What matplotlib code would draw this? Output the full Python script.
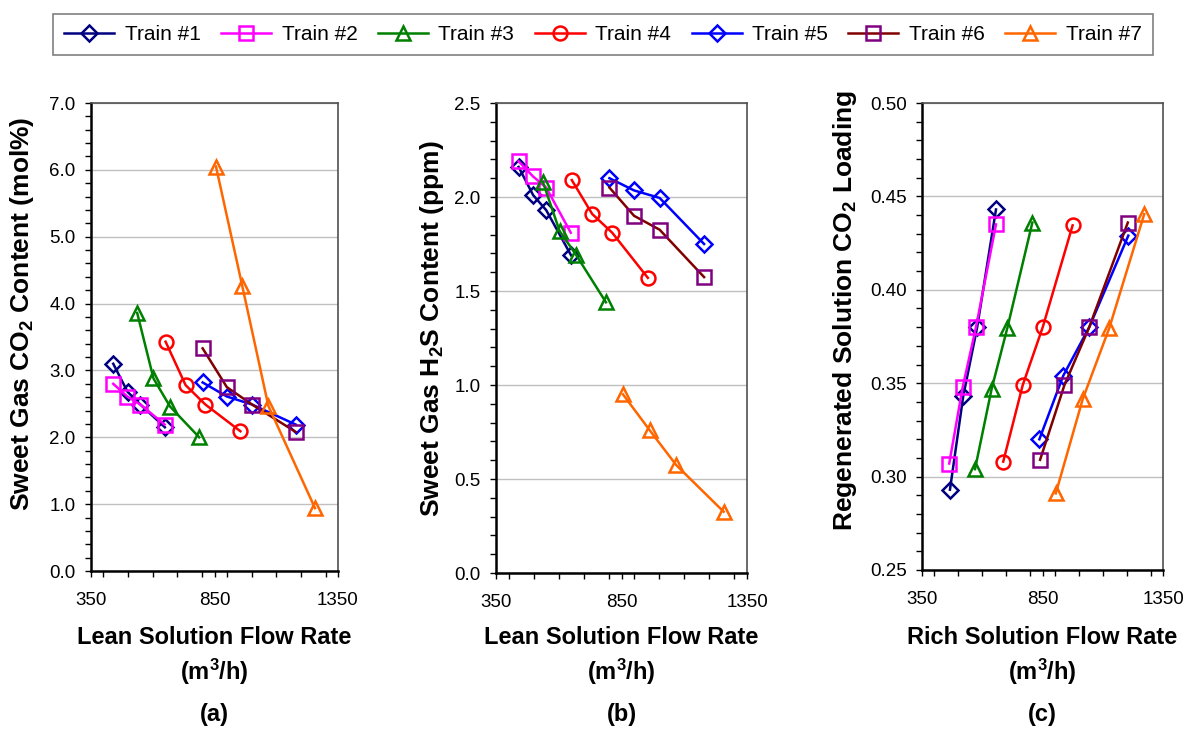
import numpy as np
import matplotlib.pyplot as plt
from matplotlib.ticker import MultipleLocator, FixedLocator, FormatStrFormatter

plt.rcParams['font.family'] = ['Liberation Sans', 'DejaVu Sans']
plt.rcParams['mathtext.default'] = 'regular'

trains = ['Train #1', 'Train #2', 'Train #3', 'Train #4', 'Train #5', 'Train #6', 'Train #7']
line_colors = ['#000080', '#FF00FF', '#008000', '#FF0000', '#0000FF', '#800000', '#FF6600']
edge_colors = ['#000080', '#FF00FF', '#008000', '#FF0000', '#0000FF', '#800080', '#FF6600']
markers = ['D', 's', '^', 'o', 'D', 's', '^']

# lean solution flow rate (m3/h), panels (a) and (b)
lean_flow = [
    [440, 498, 550, 649],
    [440, 497, 550, 648],
    [537, 603, 670, 788],
    [652, 733, 813, 955],
    [802, 900, 1002, 1179],
    [802, 900, 1002, 1179],
    [856, 962, 1068, 1257],
]
co2_content = [
    [3.10, 2.68, 2.49, 2.15],
    [2.80, 2.61, 2.49, 2.19],
    [3.86, 2.88, 2.46, 2.00],
    [3.43, 2.78, 2.49, 2.09],
    [2.82, 2.61, 2.49, 2.19],
    [3.33, 2.75, 2.49, 2.08],
    [6.05, 4.27, 2.47, 0.94],
]
h2s_content = [
    [2.16, 2.01, 1.93, 1.69],
    [2.19, 2.11, 2.05, 1.81],
    [2.08, 1.82, 1.69, 1.44],
    [2.09, 1.91, 1.81, 1.57],
    [2.10, 2.035, 1.995, 1.75],
    [2.05, 1.90, 1.826, 1.574],
    [0.95, 0.76, 0.574, 0.326],
]
# rich solution flow rate (m3/h), panel (c)
rich_flow = [
    [466, 521, 579, 657],
    [463, 519, 574, 657],
    [570, 639, 704, 808],
    [687, 768, 851, 975],
    [837, 936, 1044, 1206],
    [840, 941, 1044, 1204],
    [905, 1017, 1127, 1272],
]
co2_loading = [
    [0.293, 0.343, 0.380, 0.443],
    [0.307, 0.348, 0.380, 0.435],
    [0.304, 0.347, 0.3795, 0.436],
    [0.308, 0.349, 0.380, 0.4345],
    [0.320, 0.354, 0.380, 0.429],
    [0.309, 0.349, 0.380, 0.436],
    [0.291, 0.3415, 0.3795, 0.4405],
]

fig = plt.figure(figsize=(11.87, 7.29), dpi=100)
W, H = 1187, 729

def add_axes(left, right, top, bottom):
    return fig.add_axes([left / W, 1 - bottom / H, (right - left) / W, (bottom - top) / H])

ax_a = add_axes(91, 338, 103, 571)
ax_b = add_axes(496, 747, 103, 573)
ax_c = add_axes(922, 1163, 103, 570)

panels = [
    (ax_a, lean_flow, co2_content, (0, 7), 1.0, 0.2, '%.1f',
     'Sweet Gas CO$_2$ Content (mol%)', -0.279, 0.549, 'Lean Solution Flow Rate', '(a)'),
    (ax_b, lean_flow, h2s_content, (0, 2.5), 0.5, 0.1, '%.1f',
     'Sweet Gas H$_2$S Content (ppm)', -0.256, 0.519, 'Lean Solution Flow Rate', '(b)'),
    (ax_c, rich_flow, co2_loading, (0.25, 0.5), 0.05, 0.01, '%.2f',
     'Regenerated Solution CO$_2$ Loading', -0.32, 0.555, 'Rich Solution Flow Rate', '(c)'),
]

handles = []
for ax, xs, ys, ylim, major, minor, fmt, ylabel, ylx, yly, xlabel, tag in panels:
    for i in range(7):
        ln, = ax.plot(xs[i], ys[i], color=line_colors[i], lw=1.8, marker=markers[i],
                      markersize=8 if markers[i] == 'D' else 10, markerfacecolor='none',
                      markeredgecolor=edge_colors[i], markeredgewidth=1.8, label=trains[i],
                      clip_on=False, zorder=3)
        if ax is ax_a:
            handles.append(ln)
    ax.set_xlim(350, 1350)
    ax.set_ylim(*ylim)
    ax.xaxis.set_major_locator(FixedLocator([350, 850, 1350]))
    ax.xaxis.set_minor_locator(MultipleLocator(100))
    ax.yaxis.set_major_locator(MultipleLocator(major))
    ax.yaxis.set_minor_locator(MultipleLocator(minor))
    ax.yaxis.set_major_formatter(FormatStrFormatter(fmt))
    ax.tick_params(which='both', direction='out', length=4, width=1, color='black',
                   labelsize=13.5)
    ax.tick_params(axis='x', pad=11)
    ax.tick_params(axis='y', pad=7)
    ax.grid(axis='y', which='major', color='#c0c0c0', lw=1)
    ax.set_axisbelow(True)
    for s in ['left', 'bottom']:
        ax.spines[s].set_linewidth(1.8)
        ax.spines[s].set_color('black')
    for s in ['top', 'right']:
        ax.spines[s].set_linewidth(1.2)
        ax.spines[s].set_color('#505050')
    ax.text(ylx, yly, ylabel, transform=ax.transAxes, rotation=90, ha='center',
            va='center', fontsize=19, fontweight='bold')
    pos = ax.get_position()
    cx = pos.x0 + pos.width / 2
    fig.text(cx, 1 - 638 / H, xlabel, ha='center', va='center', fontsize=17, fontweight='bold')
    fig.text(cx, 1 - 672 / H, '(m$^3$/h)', ha='center', va='center', fontsize=17, fontweight='bold')
    fig.text(cx, 1 - 714 / H, tag, ha='center', va='center', fontsize=17, fontweight='bold')

leg = fig.legend(handles=handles, loc='center', ncol=7, mode='expand',
                 bbox_to_anchor=(53 / W, 1 - 56 / H, 1100 / W, 43 / H),
                 fontsize=15, frameon=True, fancybox=False, edgecolor='#606060',
                 handlelength=2.4, handletextpad=0.5, borderaxespad=0, borderpad=0.55)
leg.get_frame().set_linewidth(1.2)

fig.savefig('out.png', dpi=100)
